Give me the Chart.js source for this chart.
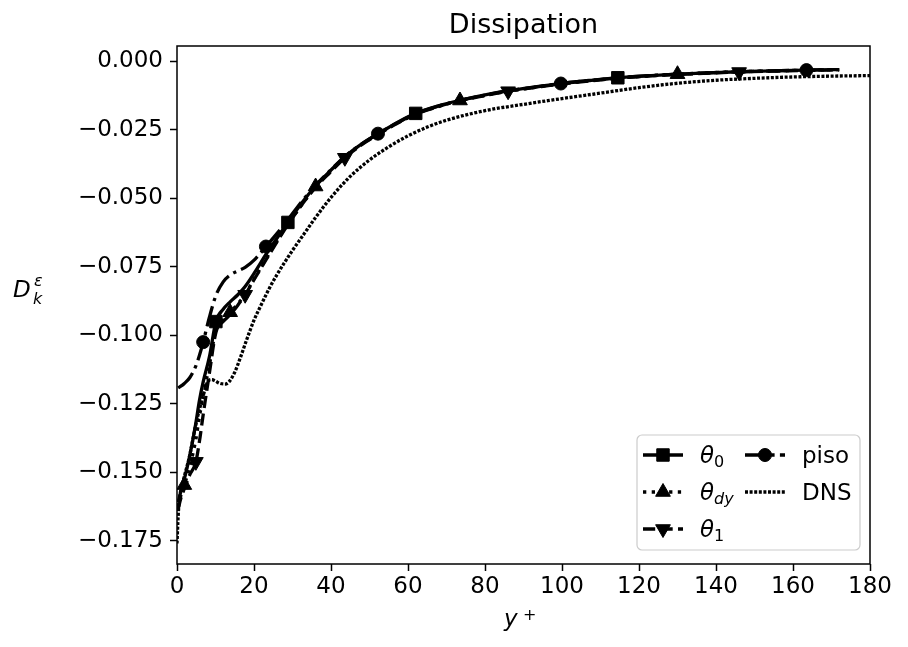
<!DOCTYPE html>
<html><head><meta charset="utf-8">
<script src="https://cdn.jsdelivr.net/npm/chart.js@4.4.0/dist/chart.umd.min.js"></script>
<style>html,body{margin:0;padding:0;background:#fff;}#wrap{width:908px;height:647px;position:relative;}</style>
</head><body><div id="wrap"><canvas id="c"></canvas></div>
<script>
const yPlus = [0.3,1.0,1.9,3.3,4.9,5.8,6.8,8.4,10.1,12.0,13.8,15.8,17.7,20.3,23.1,26.0,28.8,32.5,36.0,39.8,43.6,47.8,52.2,57.0,62.0,67.7,73.5,79.7,86.0,93.0,99.7,107.0,114.5,122.0,130.0,138.0,146.0,154.5,163.5,168.0,172.0];
const theta0 = [-0.1610,-0.1570,-0.1525,-0.1440,-0.1320,-0.1240,-0.1170,-0.1080,-0.0950,-0.0905,-0.0878,-0.0852,-0.0822,-0.0768,-0.0705,-0.0645,-0.0588,-0.0515,-0.0455,-0.0400,-0.0348,-0.0303,-0.0265,-0.0225,-0.0190,-0.0163,-0.0142,-0.0123,-0.0107,-0.0093,-0.0081,-0.0070,-0.0060,-0.0053,-0.0047,-0.0042,-0.0038,-0.0035,-0.0032,-0.0031,-0.0030];
const thetaDy = [-0.1625,-0.1585,-0.1547,-0.1480,-0.1380,-0.1300,-0.1220,-0.1110,-0.0980,-0.0945,-0.0916,-0.0885,-0.0850,-0.0788,-0.0722,-0.0655,-0.0595,-0.0522,-0.0457,-0.0402,-0.0350,-0.0305,-0.0266,-0.0227,-0.0192,-0.0165,-0.0143,-0.0125,-0.0109,-0.0095,-0.0082,-0.0071,-0.0061,-0.0054,-0.0047,-0.0042,-0.0038,-0.0035,-0.0032,-0.0031,-0.0030];
const theta1 = [-0.1635,-0.1595,-0.1560,-0.1510,-0.1462,-0.1390,-0.1290,-0.1140,-0.0990,-0.0950,-0.0925,-0.0890,-0.0852,-0.0790,-0.0725,-0.0658,-0.0596,-0.0522,-0.0460,-0.0405,-0.0352,-0.0306,-0.0267,-0.0228,-0.0193,-0.0166,-0.0144,-0.0126,-0.0109,-0.0095,-0.0083,-0.0072,-0.0062,-0.0054,-0.0048,-0.0043,-0.0039,-0.0036,-0.0033,-0.0032,-0.0031];
const piso = [-0.1192,-0.1186,-0.1176,-0.1155,-0.1112,-0.1075,-0.1025,-0.0935,-0.0855,-0.0805,-0.0780,-0.0765,-0.0752,-0.0722,-0.0676,-0.0628,-0.0578,-0.0510,-0.0452,-0.0398,-0.0347,-0.0303,-0.0264,-0.0226,-0.0191,-0.0164,-0.0143,-0.0124,-0.0108,-0.0094,-0.0081,-0.0070,-0.0060,-0.0053,-0.0047,-0.0042,-0.0038,-0.0035,-0.0032,-0.0031,-0.0030];
const dnsX = [0,0.3,0.7,1.2,1.9,3.2,4.9,6.7,8.0,9.0,10.0,11.0,12.5,13.5,15.0,16.5,18.0,20.0,22.0,24.0,26.0,28.0,30.0,33.0,36.0,40.0,45.0,50.0,55.0,60.0,65.0,70.0,80.0,90.0,100.0,110.0,120.0,130.0,140.0,150.0,160.0,170.0,180.0];
const dnsY = [-0.1760,-0.1660,-0.1590,-0.1555,-0.1515,-0.1445,-0.1325,-0.1225,-0.1170,-0.1162,-0.1167,-0.1175,-0.1178,-0.1170,-0.1135,-0.1080,-0.1020,-0.0945,-0.0885,-0.0828,-0.0778,-0.0733,-0.0690,-0.0630,-0.0570,-0.0497,-0.0420,-0.0360,-0.0312,-0.0272,-0.0240,-0.0215,-0.0180,-0.0157,-0.0136,-0.0116,-0.0096,-0.0080,-0.0069,-0.0062,-0.0057,-0.0054,-0.0052];
const markTheta0 = [8,16,24,32];
const markThetaDy = [2,10,18,26,34];
const markTheta1 = [4,12,20,28,36];
const markPiso = [6,14,22,30,38];
const xTicks = [0,20,40,60,80,100,120,140,160,180];
const yTicks = [0,-0.025,-0.05,-0.075,-0.1,-0.125,-0.15,-0.175];
const titleText = 'Dissipation';

const FONT = "'DejaVu Sans'";
const LW = 3.3;
const DASH_SOLID = [];
const DASH_DOTTED = [3.3, 5.4];
const DASH_DASHED = [12.2, 5.3];
const DASH_DASHDOT = [21, 5.3, 3.3, 5.3];
const DASH_DNS = [3, 1.6];

function pts(xs, ys){ return xs.map((x,i)=>({x:x, y:ys[i]})); }
function radiusFor(marks, r){ return ctx => marks.includes(ctx.dataIndex) ? r : 0; }

const styles = {
  theta0: {style:'rect', r:8.8, rot:0, dash:DASH_SOLID},
  thetaDy:{style:'triangle', r:8.5, rot:0, dash:DASH_DOTTED},
  theta1: {style:'triangle', r:8.5, rot:180, dash:DASH_DASHED},
  piso:   {style:'circle', r:6.5, rot:0, dash:DASH_DASHDOT},
  dns:    {style:null, r:0, rot:0, dash:DASH_DNS}
};

function mk(label, data, marks, st, order){
  return {label, data, order, borderColor:'#000', backgroundColor:'#000', borderWidth:LW,
    borderDash:st.dash, borderCapStyle:'butt', borderJoinStyle:'round',
    cubicInterpolationMode:'monotone', fill:false,
    pointStyle: st.style || 'circle', pointRotation: st.rot,
    pointRadius: marks ? radiusFor(marks, st.r) : 0, pointHoverRadius: marks ? radiusFor(marks, st.r) : 0,
    pointBackgroundColor:'#000', pointBorderColor:'#000', pointBorderWidth:1};
}

function drawMarker(ctx, style, r, rot, x, y){
  ctx.save(); ctx.fillStyle='#000'; ctx.strokeStyle='#000'; ctx.lineWidth=1; ctx.setLineDash([]);
  ctx.beginPath();
  if(style==='rect'){ const s=Math.SQRT1_2*r; ctx.rect(x-s,y-s,2*s,2*s); }
  else if(style==='circle'){ ctx.arc(x,y,r,0,Math.PI*2); }
  else if(style==='triangle'){
    let a = rot*Math.PI/180;
    ctx.moveTo(x+Math.sin(a)*r, y-Math.cos(a)*r);
    a += 2*Math.PI/3; ctx.lineTo(x+Math.sin(a)*r, y-Math.cos(a)*r);
    a += 2*Math.PI/3; ctx.lineTo(x+Math.sin(a)*r, y-Math.cos(a)*r);
    ctx.closePath();
  }
  ctx.fill(); ctx.stroke(); ctx.restore();
}

function drawRuns(ctx, runs, x, y){
  let cx = x;
  for(const r of runs){
    ctx.font = (r.italic?'italic ':'') + r.size + 'px ' + FONT;
    ctx.fillText(r.t, cx + (r.dx||0), y + (r.dy||0));
    cx += ctx.measureText(r.t).width + (r.dx||0);
  }
}

const decor = {
  id:'decor',
  afterDatasetsDraw(chart){
    const ctx = chart.ctx, a = chart.chartArea;
    ctx.save();
    ctx.strokeStyle='#000'; ctx.lineWidth=1.5; ctx.setLineDash([]);
    ctx.strokeRect(a.left, a.top, a.right-a.left, a.bottom-a.top);
    ctx.fillStyle='#000'; ctx.textBaseline='alphabetic';
    ctx.font = '27px ' + FONT; ctx.textAlign='center';
    ctx.fillText(titleText, (a.left+a.right)/2, 33);
    ctx.textAlign='left';
    drawRuns(ctx, [{t:'D', italic:true, size:23}], 13, 297);
    drawRuns(ctx, [{t:'\u03b5', italic:true, size:16}], 34, 286);
    drawRuns(ctx, [{t:'k', italic:true, size:16}], 33, 304);
    drawRuns(ctx, [{t:'y', italic:true, size:23}], 504, 626);
    drawRuns(ctx, [{t:'+', italic:false, size:16}], 523, 620);
    const bx=637, by=435, bw=223, bh=115, rr=5;
    ctx.beginPath();
    ctx.moveTo(bx+rr,by); ctx.lineTo(bx+bw-rr,by); ctx.arcTo(bx+bw,by,bx+bw,by+rr,rr);
    ctx.lineTo(bx+bw,by+bh-rr); ctx.arcTo(bx+bw,by+bh,bx+bw-rr,by+bh,rr);
    ctx.lineTo(bx+rr,by+bh); ctx.arcTo(bx,by+bh,bx,by+bh-rr,rr);
    ctx.lineTo(bx,by+rr); ctx.arcTo(bx,by,bx+rr,by,rr); ctx.closePath();
    ctx.fillStyle='rgba(255,255,255,0.8)'; ctx.fill();
    ctx.strokeStyle='#cccccc'; ctx.lineWidth=1.2; ctx.stroke();
    const entries = [
      {st:styles.theta0, hx:643, hy:455, tx:700, runs:[{t:'\u03b8',italic:true,size:23},{t:'0',size:16,dy:4}]},
      {st:styles.thetaDy, hx:643, hy:492, tx:700, runs:[{t:'\u03b8',italic:true,size:23},{t:'dy',italic:true,size:16,dy:4}]},
      {st:styles.theta1, hx:643, hy:529, tx:700, runs:[{t:'\u03b8',italic:true,size:23},{t:'1',size:16,dy:4}]},
      {st:styles.piso, hx:745, hy:455, tx:802, runs:[{t:'piso',size:23}]},
      {st:styles.dns, hx:745, hy:492, tx:802, runs:[{t:'DNS',size:23}]}
    ];
    for(const e of entries){
      ctx.save();
      ctx.strokeStyle='#000'; ctx.lineWidth=LW; ctx.lineCap='butt'; ctx.setLineDash(e.st.dash);
      ctx.beginPath(); ctx.moveTo(e.hx, e.hy); ctx.lineTo(e.hx+40, e.hy); ctx.stroke();
      ctx.restore();
      if(e.st.style) drawMarker(ctx, e.st.style, e.st.r, e.st.rot, e.hx+20, e.hy);
      ctx.fillStyle='#000';
      drawRuns(ctx, e.runs, e.tx, e.hy+8);
    }
    ctx.restore();
  }
};

const fmtY = v => Math.abs(v) < 1e-9 ? '0.000' : (v<0?'\u2212':'') + Math.abs(v).toFixed(3);

new Chart(document.getElementById('c'), {
  type:'line',
  data:{ datasets:[
    mk('\u03b80', pts(yPlus, theta0), markTheta0, styles.theta0, 5),
    mk('\u03b8dy', pts(yPlus, thetaDy), markThetaDy, styles.thetaDy, 4),
    mk('\u03b81', pts(yPlus, theta1), markTheta1, styles.theta1, 3),
    mk('piso', pts(yPlus, piso), markPiso, styles.piso, 2),
    mk('DNS', pts(dnsX, dnsY), null, styles.dns, 1)
  ]},
  options:{
    responsive:true, maintainAspectRatio:false, animation:false, devicePixelRatio:1,
    events:[],
    layout:{ padding:{left:0, right:38, top:46, bottom:0} },
    plugins:{ legend:{display:false}, title:{display:false}, tooltip:{enabled:false} },
    scales:{
      x:{ type:'linear', min:0, max:180,
        afterFit(s){ s.height = 83; },
        afterBuildTicks(s){ s.ticks = xTicks.map(v=>({value:v})); },
        ticks:{ color:'#000', font:{family:'DejaVu Sans', size:23}, padding:2, maxRotation:0, autoSkip:false, callback:v=>String(v) },
        grid:{ display:true, drawOnChartArea:false, drawTicks:true, tickLength:7, tickWidth:1.5, tickColor:'#000', color:'#000' },
        border:{ display:false }
      },
      y:{ type:'linear', min:-0.1835, max:0.0056,
        afterFit(s){ s.width = 177; },
        afterBuildTicks(s){ s.ticks = yTicks.map(v=>({value:v})); },
        ticks:{ color:'#000', font:{family:'DejaVu Sans', size:23}, padding:7, autoSkip:false, callback:v=>fmtY(v) },
        grid:{ display:true, drawOnChartArea:false, drawTicks:true, tickLength:7, tickWidth:1.5, tickColor:'#000', color:'#000' },
        border:{ display:false }
      }
    }
  },
  plugins:[decor]
});
</script></body></html>
